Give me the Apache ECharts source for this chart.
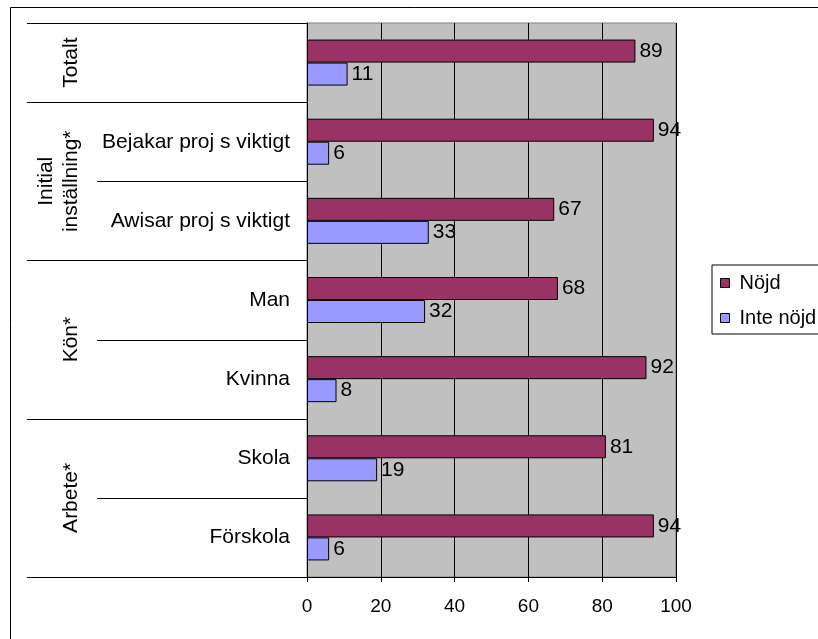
<!DOCTYPE html>
<html>
<head>
<meta charset="utf-8">
<script src="https://cdn.jsdelivr.net/npm/echarts@6/dist/echarts.min.js"></script>
<style>
  html, body { margin: 0; padding: 0; background: #fff; }
  #chart { width: 818px; height: 639px; }
</style>
</head>
<body>
<div id="chart"></div>
<script>
// Rows from top to bottom
const categories = ['Totalt', 'Bejakar proj s viktigt', 'Awisar proj s viktigt', 'Man', 'Kvinna', 'Skola', 'Förskola'];
// Row labels shown beside the bars (the total row has only its group label)
const rowLabels = ['', 'Bejakar proj s viktigt', 'Awisar proj s viktigt', 'Man', 'Kvinna', 'Skola', 'Förskola'];
// Group labels and how many rows each group spans
const groupNames = [['Totalt'], ['Initial', 'inställning*'], ['Kön*'], ['Arbete*']];
const groupSizes = [1, 2, 2, 2];

const seriesNames = ['Nöjd', 'Inte nöjd'];
const nojd = [89, 94, 67, 68, 92, 81, 94];
const inteNojd = [11, 6, 33, 32, 8, 19, 6];
const xTicks = [0, 20, 40, 60, 80, 100];

const FONT = '"Liberation Sans", Arial, sans-serif';
const chart = echarts.init(document.getElementById('chart'), null, { renderer: 'canvas' });

const labelStyle = {
  show: true,
  position: 'right',
  distance: 4,
  color: '#000',
  fontSize: 21,
  fontFamily: FONT
};

chart.setOption({
  animation: false,
  backgroundColor: '#fff',
  grid: {
    left: 307, top: 23, width: 369, height: 554,
    show: true,
    backgroundColor: '#C0C0C0',
    borderColor: '#808080',
    borderWidth: 1
  },
  legend: {
    left: 712, top: 265,
    orient: 'vertical',
    icon: 'rect',
    itemWidth: 9, itemHeight: 9,
    itemGap: 15,
    padding: [8, 20, 6, 8],
    borderColor: '#000', borderWidth: 1,
    backgroundColor: '#fff',
    textStyle: { fontSize: 20, fontFamily: FONT, color: '#000', padding: [0, 0, 0, 5] },
    itemStyle: { borderColor: '#000', borderWidth: 1 },
    data: seriesNames
  },
  xAxis: {
    type: 'value',
    min: xTicks[0], max: xTicks[xTicks.length - 1], interval: 20,
    axisLine: { show: true, lineStyle: { color: '#000', width: 1 } },
    axisTick: { show: true, length: 5, lineStyle: { color: '#000' } },
    axisLabel: { margin: 20, fontSize: 19, fontFamily: FONT, color: '#000' },
    splitLine: { show: true, lineStyle: { color: '#000', width: 1 } }
  },
  yAxis: {
    type: 'category',
    inverse: true,
    data: categories,
    axisLine: { show: true, lineStyle: { color: '#000', width: 1 } },
    axisTick: { show: false },
    axisLabel: {
      margin: 17, fontSize: 21, fontFamily: FONT, color: '#000',
      formatter: (v, i) => rowLabels[i]
    },
    splitLine: { show: false }
  },
  series: [
    {
      name: seriesNames[0], type: 'bar', data: nojd,
      barWidth: 23, barGap: '0%',
      itemStyle: { color: '#993366', borderColor: '#000', borderWidth: 1 },
      label: labelStyle
    },
    {
      name: seriesNames[1], type: 'bar', data: inteNojd,
      barWidth: 23, barGap: '0%',
      itemStyle: { color: '#9999FF', borderColor: '#000', borderWidth: 1 },
      label: labelStyle
    }
  ]
});

// Left-hand row separators and rotated group labels, placed from the category axis scale
const rowY = categories.map((c, i) => chart.convertToPixel({ yAxisIndex: 0 }, i));
const band = rowY.length > 1 ? rowY[1] - rowY[0] : 79;
const axisX = chart.convertToPixel({ xAxisIndex: 0 }, 0);
const boundary = i => (i === 0 ? rowY[0] - band / 2 : rowY[i - 1] + band / 2);

const graphics = [];
// outer frame
graphics.push({
  type: 'rect', shape: { x: 10.5, y: 7.5, width: 900, height: 700 },
  style: { fill: null, stroke: '#000', lineWidth: 1 }, z: 100
});

const groupStarts = [];
let acc = 0;
groupSizes.forEach(s => { groupStarts.push(acc); acc += s; });
const isGroupEdge = new Set([...groupStarts, categories.length]);

for (let i = 0; i <= categories.length; i++) {
  const y = Math.round(boundary(i)) + 0.5;
  const x0 = isGroupEdge.has(i) ? 27 : 97;
  graphics.push({
    type: 'line', shape: { x1: x0, y1: y, x2: axisX, y2: y },
    style: { stroke: '#000', lineWidth: 1 }, z: 100
  });
}

groupNames.forEach((lines, g) => {
  const top = boundary(groupStarts[g]);
  const bottom = boundary(groupStarts[g] + groupSizes[g]);
  const cy = (top + bottom) / 2;
  lines.forEach((t, j) => {
    graphics.push({
      type: 'text',
      x: 71 - (lines.length - 1 - j) * 25,
      y: cy,
      rotation: Math.PI / 2,
      style: {
        text: t, font: '21px ' + FONT, fill: '#000',
        textAlign: 'center', textVerticalAlign: 'middle'
      },
      z: 100
    });
  });
});

chart.setOption({ graphic: graphics });
</script>
</body>
</html>
